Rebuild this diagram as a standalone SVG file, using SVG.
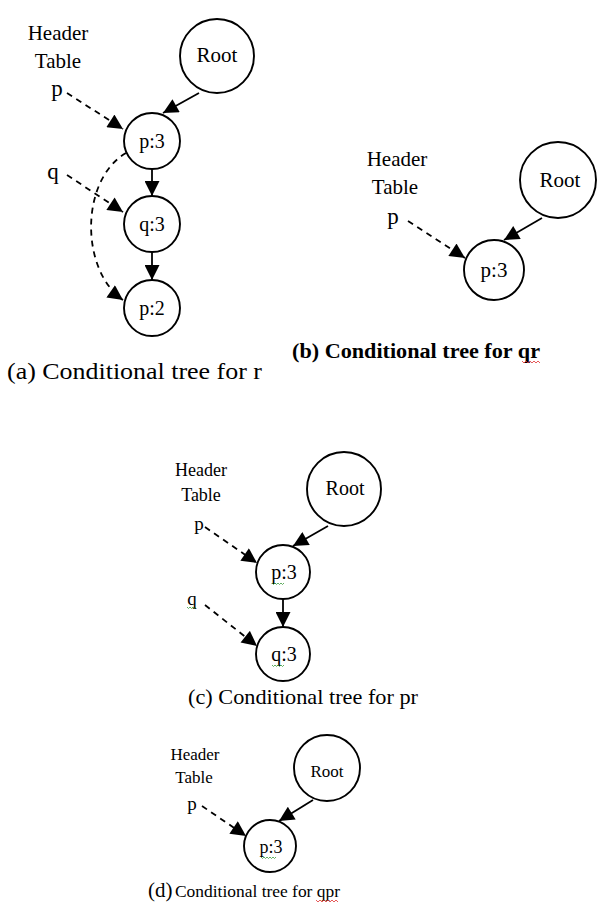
<svg xmlns="http://www.w3.org/2000/svg" width="597" height="911" viewBox="0 0 597 911">
<style>
.n{fill:#fff;stroke:#000;stroke-width:1.9}
.t{font-family:"Liberation Serif","Times New Roman",serif;font-size:20px;fill:#000}
.c{text-anchor:middle}
.e{fill:none;stroke:#000;stroke-width:1.8;marker-end:url(#ah)}
.d{stroke-dasharray:6,5}
.sq{fill:none;stroke-width:0.8}
</style>
<defs>
<marker id="ah" viewBox="0 0 10 10" refX="10" refY="5" markerWidth="16" markerHeight="15" markerUnits="userSpaceOnUse" orient="auto"><path d="M0,0 L10,5 L0,10 z" fill="#000"/></marker>
</defs>
<rect width="597" height="911" fill="#fff"/>

<!-- Panel (a) -->
<g id="a-header"><text class="t c" x="58" y="40" style="font-size:21px">Header</text><text class="t c" x="58" y="68" style="font-size:21px">Table</text><text class="t c" x="57" y="96" style="font-size:23px">p</text><text class="t c" x="53" y="179" style="font-size:23px">q</text></g>
<g id="a-root"><circle class="n" cx="217" cy="56" r="37"/><text class="t c" x="217" y="62" style="font-size:21px">Root</text></g>
<g id="a-p3"><circle class="n" cx="152" cy="141" r="28"/><text class="t c" x="152" y="148">p:3</text></g>
<g id="a-q3"><circle class="n" cx="152" cy="224" r="28"/><text class="t c" x="152" y="231">q:3</text></g>
<g id="a-p2"><circle class="n" cx="152" cy="308" r="28"/><text class="t c" x="152" y="315">p:2</text></g>
<g id="a-connectors">
<line class="e" x1="199" y1="93" x2="163" y2="113"/>
<line class="e" x1="152" y1="169" x2="152" y2="196"/>
<line class="e" x1="152" y1="252" x2="152" y2="280"/>
<line class="e d" x1="67" y1="93" x2="123" y2="129"/>
<line class="e d" x1="67" y1="175" x2="123" y2="212"/>
<path class="e d" d="M126,153 C80,180 80,270 123,300"/>
</g>
<text class="t" x="7" y="379" style="font-size:24px" textLength="255" lengthAdjust="spacingAndGlyphs">(a) Conditional tree for r</text>

<!-- Panel (b) -->
<g id="b-header"><text class="t c" x="397" y="166" style="font-size:21px">Header</text><text class="t c" x="395" y="194" style="font-size:21px">Table</text><text class="t c" x="393" y="224" style="font-size:23px">p</text></g>
<g id="b-root"><circle class="n" cx="558" cy="180" r="38"/><text class="t c" x="560" y="187" style="font-size:21px">Root</text></g>
<g id="b-p3"><circle class="n" cx="494" cy="270" r="30"/><text class="t c" x="494" y="277" style="font-size:21px">p:3</text></g>
<g id="b-connectors">
<line class="e" x1="542" y1="218" x2="504" y2="240"/>
<line class="e d" x1="408" y1="221" x2="465" y2="258"/>
</g>
<text class="t" x="292" y="358" style="font-size:20px;font-weight:bold" textLength="248" lengthAdjust="spacingAndGlyphs">(b) Conditional tree for qr</text>
<path class="sq" stroke="#e03030" d="M522,361 l2,2 l2,-2 l2,2 l2,-2 l2,2 l2,-2 l2,2 l2,-2 l2,2"/>

<!-- Panel (c) -->
<g id="c-header"><text class="t c" x="201" y="476" style="font-size:18px">Header</text><text class="t c" x="201" y="501" style="font-size:18px">Table</text><text class="t c" x="199" y="530" style="font-size:19px">p</text><text class="t c" x="192" y="605" style="font-size:19px">q</text></g>
<g id="c-root"><circle class="n" cx="344" cy="489" r="37"/><text class="t c" x="345" y="495">Root</text></g>
<g id="c-p3"><circle class="n" cx="283" cy="572" r="27"/><text class="t c" x="284" y="579">p:3</text></g>
<g id="c-q3"><circle class="n" cx="283" cy="654" r="27"/><text class="t c" x="284" y="661">q:3</text></g>
<g id="c-connectors">
<line class="e" x1="328" y1="526" x2="293" y2="546"/>
<line class="e" x1="283" y1="599" x2="283" y2="627"/>
<line class="e d" x1="205" y1="527" x2="257" y2="563"/>
<line class="e d" x1="205" y1="605" x2="257" y2="646"/>
</g>
<path class="sq" stroke="#3a9a3a" d="M272,583 l1.5,1.5 l1.5,-1.5 l1.5,1.5 l1.5,-1.5 l1.5,1.5 l1.5,-1.5 l1.5,1.5 l1.5,-1.5"/>
<path class="sq" stroke="#3a9a3a" d="M187,607 l1.5,1.5 l1.5,-1.5 l1.5,1.5 l1.5,-1.5 l1.5,1.5 l1.5,-1.5"/>
<path class="sq" stroke="#3a9a3a" d="M272,665 l1.5,1.5 l1.5,-1.5 l1.5,1.5 l1.5,-1.5 l1.5,1.5 l1.5,-1.5 l1.5,1.5 l1.5,-1.5"/>
<text class="t" x="188" y="704" style="font-size:21px" textLength="230" lengthAdjust="spacingAndGlyphs">(c) Conditional tree for pr</text>

<!-- Panel (d) -->
<g id="d-header"><text class="t c" x="195" y="760" style="font-size:17px">Header</text><text class="t c" x="194" y="783" style="font-size:17px">Table</text><text class="t c" x="192" y="810" style="font-size:19px">p</text></g>
<g id="d-root"><circle class="n" cx="327" cy="768" r="33"/><text class="t c" x="327" y="777" style="font-size:17px">Root</text></g>
<g id="d-p3"><circle class="n" cx="270" cy="846" r="26"/><text class="t c" x="271" y="853" style="font-size:18px">p:3</text></g>
<g id="d-connectors">
<line class="e" x1="313" y1="800" x2="279" y2="821"/>
<line class="e d" x1="202" y1="806" x2="246" y2="836"/>
</g>
<path class="sq" stroke="#3a9a3a" d="M261,857 l1.5,1.5 l1.5,-1.5 l1.5,1.5 l1.5,-1.5 l1.5,1.5 l1.5,-1.5 l1.5,1.5 l1.5,-1.5 l1.5,1.5 l1.5,-1.5"/>
<text class="t" x="148" y="897"><tspan style="font-size:21px">(d)</tspan><tspan x="175" style="font-size:16px" textLength="165" lengthAdjust="spacingAndGlyphs">Conditional tree for qpr</tspan></text>
<path class="sq" stroke="#e03030" d="M316,900 l2,2 l2,-2 l2,2 l2,-2 l2,2 l2,-2 l2,2 l2,-2 l2,2 l2,-2 l2,2"/>
</svg>
